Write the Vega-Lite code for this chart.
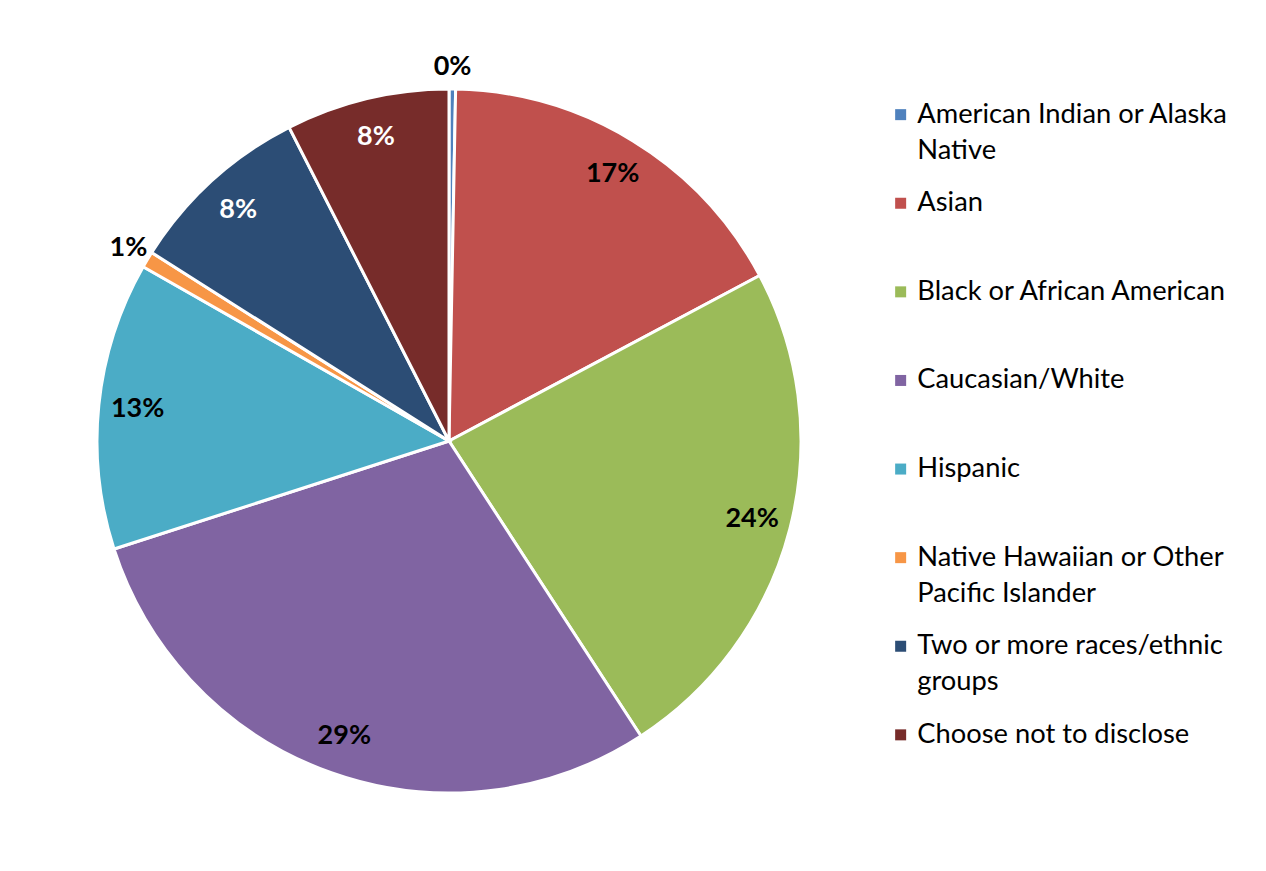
{
  "$schema": "https://vega.github.io/schema/vega-lite/v6.json",
  "width": 704,
  "height": 704,
  "autosize": {"type": "none"},
  "padding": {"left": 97, "top": 89, "right": 465, "bottom": 78},
  "background": "white",
  "data": {
    "values": [
      {"category": "American Indian or Alaska Native", "value": 0.3, "label": "0%", "idx": 1},
      {"category": "Asian", "value": 16.9, "label": "17%", "idx": 2},
      {"category": "Black or African American", "value": 23.6, "label": "24%", "idx": 3},
      {"category": "Caucasian/White", "value": 29.2, "label": "29%", "idx": 4},
      {"category": "Hispanic", "value": 13.2, "label": "13%", "idx": 5},
      {"category": "Native Hawaiian or Other Pacific Islander", "value": 0.75, "label": "1%", "idx": 6},
      {"category": "Two or more races/ethnic groups", "value": 8.5, "label": "8%", "idx": 7},
      {"category": "Choose not to disclose", "value": 7.5, "label": "8%", "idx": 8}
    ]
  },
  "encoding": {
    "theta": {"field": "value", "type": "quantitative", "stack": true},
    "order": {"field": "idx", "type": "quantitative"}
  },
  "layer": [
    {
      "mark": {"type": "arc", "radius": 352, "stroke": "white", "strokeWidth": 3},
      "encoding": {
        "color": {
          "field": "category",
          "type": "nominal",
          "sort": ["American Indian or Alaska Native", "Asian", "Black or African American", "Caucasian/White", "Hispanic", "Native Hawaiian or Other Pacific Islander", "Two or more races/ethnic groups", "Choose not to disclose"],
          "scale": {
            "domain": ["American Indian or Alaska Native", "Asian", "Black or African American", "Caucasian/White", "Hispanic", "Native Hawaiian or Other Pacific Islander", "Two or more races/ethnic groups", "Choose not to disclose"],
            "range": ["#4f81bd", "#c0504d", "#9bbb59", "#8064a2", "#4bacc6", "#f79646", "#2c4d75", "#772c2a"]
          },
          "legend": {
            "title": null,
            "orient": "right",
            "offset": 74,
            "padding": 12,
            "symbolType": "square",
            "symbolSize": 121,
            "symbolStrokeWidth": 0,
            "labelFont": "Lato",
            "labelFontSize": 27.3,
            "labelColor": "black",
            "labelLimit": 600,
            "labelOffset": 3,
            "labelBaseline": "middle",
            "rowPadding": 24.6,
            "labelExpr": "datum.label == 'American Indian or Alaska Native' ? ['American Indian or Alaska', 'Native'] : datum.label == 'Native Hawaiian or Other Pacific Islander' ? ['Native Hawaiian or Other', 'Pacific Islander'] : datum.label == 'Two or more races/ethnic groups' ? ['Two or more races/ethnic', 'groups'] : [datum.label, ' ']"
          }
        }
      }
    },
    {
      "mark": {"type": "text", "radius": 313, "font": "Lato", "fontSize": 27, "fontWeight": "bold"},
      "encoding": {
        "text": {"condition": {"test": "datum.value >= 2", "field": "label", "type": "nominal"}, "value": ""},
        "color": {"condition": {"test": "datum.idx >= 7", "value": "white"}, "value": "black"}
      }
    },
    {
      "mark": {"type": "text", "radius": 374, "font": "Lato", "fontSize": 27, "fontWeight": "bold", "color": "black"},
      "encoding": {
        "text": {"condition": {"test": "datum.value < 2", "field": "label", "type": "nominal"}, "value": ""}
      }
    }
  ],
  "config": {
    "view": {"stroke": null},
    "style": {"guide-label": {"lineHeight": 36}}
  }
}
